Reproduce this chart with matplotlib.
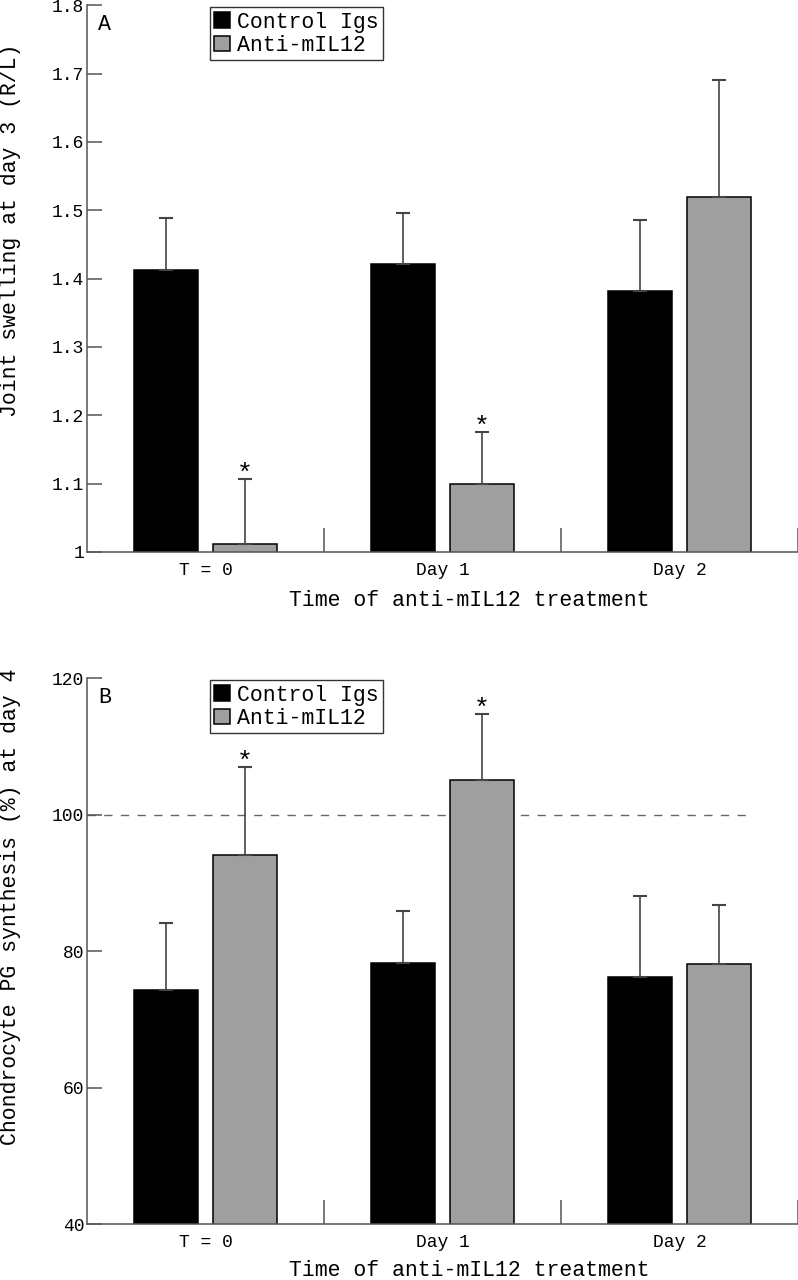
import matplotlib
matplotlib.use('Agg')
import matplotlib.pyplot as plt
import numpy as np

# categories on the x axis
groups = ['T = 0', 'Day 1', 'Day 2']
series_names = ['Control Igs', 'Anti-mIL12']

# panel A: joint swelling (R/L) at day 3
swell_control = [1.412, 1.422, 1.382]
swell_control_err = [0.077, 0.074, 0.104]
swell_anti = [1.012, 1.100, 1.519]
swell_anti_err = [0.095, 0.076, 0.171]
swell_star = [True, True, False]
swell_ticks = [1, 1.1, 1.2, 1.3, 1.4, 1.5, 1.6, 1.7, 1.8]
swell_ticklabels = ['1', '1.1', '1.2', '1.3', '1.4', '1.5', '1.6', '1.7', '1.8']

# panel B: chondrocyte PG synthesis (%) at day 4
pg_control = [74.4, 78.3, 76.3]
pg_control_err = [9.7, 7.6, 11.8]
pg_anti = [94.1, 105.1, 78.1]
pg_anti_err = [12.95, 9.7, 8.7]
pg_star = [True, True, False]
pg_ticks = [40, 60, 80, 100, 120]
pg_reference = 100

FONT = 'Liberation Mono'
AXCOL = '#555555'
GREY = '#9f9f9f'
WIDTH = 0.27
OFFSET = 0.165


def main():
    plt.rcParams['font.family'] = [FONT, 'DejaVu Sans Mono']
    fig = plt.figure(figsize=(7.98, 12.8), dpi=100)
    axA = fig.add_axes([87 / 798, 728 / 1280, 711 / 798, 546.7 / 1280])
    axB = fig.add_axes([87 / 798, 55.7 / 1280, 711 / 798, 546 / 1280])

    drawPanel(axA, swell_control, swell_control_err, swell_anti, swell_anti_err,
              swell_star, 'A', 'Joint swelling at day 3 (R/L)')
    axA.set_ylim(1, 1.8)
    axA.set_yticks(swell_ticks)
    axA.set_yticklabels(swell_ticklabels)
    axA.yaxis.set_label_coords(-0.107, 0.589)
    axA.xaxis.set_label_coords(0.537, -0.07)

    drawPanel(axB, pg_control, pg_control_err, pg_anti, pg_anti_err,
              pg_star, 'B', 'Chondrocyte PG synthesis (%) at day 4')
    axB.set_ylim(40, 120)
    axB.set_yticks(pg_ticks)
    axB.yaxis.set_label_coords(-0.107, 0.581)
    axB.xaxis.set_label_coords(0.537, -0.066)
    # dashed 100% line, stops at the right edge of the last bar
    right = len(groups) - 0.5 + OFFSET + WIDTH / 2
    axB.hlines(pg_reference, 0, right, colors='#666666', linestyles=(0, (6, 6)),
               linewidth=1.0, zorder=1)

    fig.savefig('out.png', dpi=100)


def drawPanel(ax, ctrl, ctrl_err, anti, anti_err, stars, letter, ylabel):
    x = np.arange(len(groups)) + 0.5
    err_kw = dict(ecolor='#444444', elinewidth=1.2, capsize=5, capthick=1.5)
    # only the upper half of each error bar is drawn
    ax.bar(x - OFFSET, ctrl, WIDTH, color='black', edgecolor='black', linewidth=1.1,
           yerr=[np.zeros(len(ctrl)), ctrl_err], error_kw=err_kw, zorder=2,
           label=series_names[0])
    ax.bar(x + OFFSET, anti, WIDTH, color=GREY, edgecolor='black', linewidth=1.1,
           yerr=[np.zeros(len(anti)), anti_err], error_kw=err_kw, zorder=2,
           label=series_names[1])
    for i in range(len(groups)):
        if stars[i]:
            ax.annotate('*', (x[i] + OFFSET, anti[i] + anti_err[i]), xytext=(0, -1.5),
                        textcoords='offset points', ha='center', va='baseline',
                        fontsize=19)

    ax.set_xlim(0, len(groups))
    for s in ['top', 'right']:
        ax.spines[s].set_visible(False)
    for s in ['left', 'bottom']:
        ax.spines[s].set_color(AXCOL)
        ax.spines[s].set_linewidth(1.1)

    # group separators as major ticks, names as minor ticks
    ax.set_xticks(np.arange(1, len(groups) + 1))
    ax.set_xticklabels([])
    ax.set_xticks(x, minor=True)
    ax.set_xticklabels(groups, minor=True)
    ax.tick_params(axis='x', which='major', direction='in', length=17, width=1.1, color=AXCOL)
    ax.tick_params(axis='x', which='minor', length=0, pad=7, labelsize=13)
    ax.tick_params(axis='y', direction='in', length=11, width=1.1, color=AXCOL,
                   pad=2, labelsize=13)

    ax.set_xlabel('Time of anti-mIL12 treatment', fontsize=15.5)
    ax.set_ylabel(ylabel, fontsize=15.5, va='center')
    ax.text(0.0155, 0.964, letter, transform=ax.transAxes, fontsize=15.5,
            ha='left', va='center')

    leg = ax.legend(loc='upper left', bbox_to_anchor=(0.173, 0.996), borderaxespad=0,
                    fontsize=15.5, handlelength=0.75, handleheight=0.75,
                    handletextpad=0.3, borderpad=0.2, labelspacing=0.1,
                    fancybox=False, framealpha=1)
    leg.get_frame().set_edgecolor('#333333')
    leg.get_frame().set_linewidth(1.0)


if __name__ == "__main__":
    main()
